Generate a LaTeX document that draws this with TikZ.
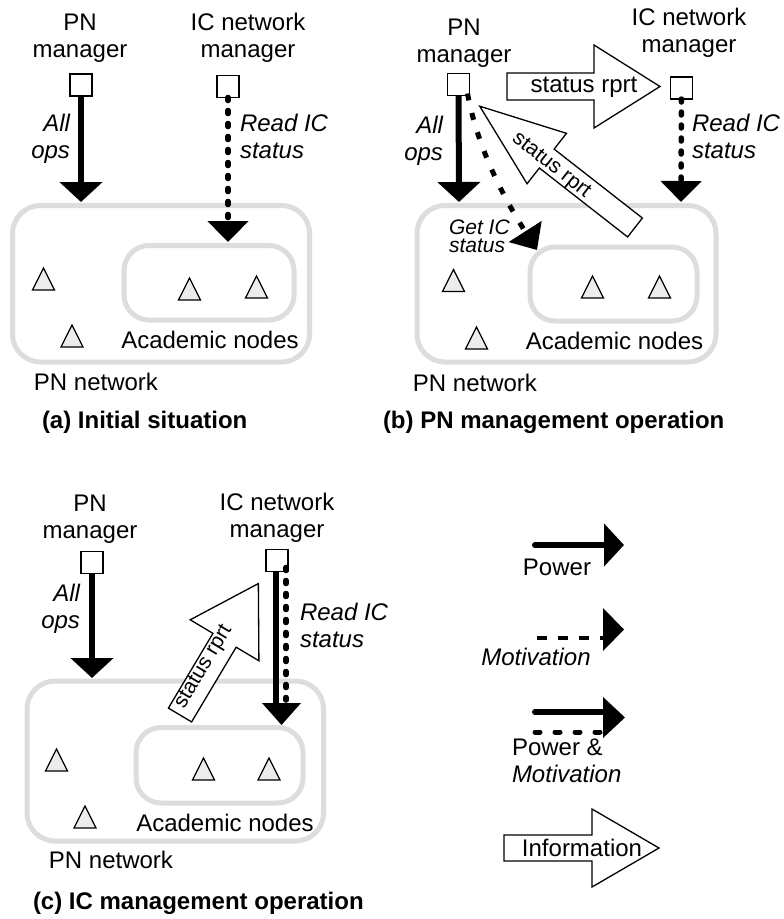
\documentclass[tikz,border=0pt]{standalone}
\usepackage{fontspec}
\setmainfont{Liberation Sans}
\usetikzlibrary{arrows.meta,calc}
\definecolor{framegray}{RGB}{221,221,221}
\definecolor{hostfill}{RGB}{236,236,236}

\tikzset{
  pics/host/.style={code={
    \draw[line width=1.3pt, fill=hostfill, line join=miter] (-11,11) -- (11,11) -- (0,-11) -- cycle;}},
  % open block arrow: length / head length / head width / body width
  pics/infoarrow/.style args={#1/#2/#3/#4}{code={
    \draw[line width=1.3pt, fill=white, line join=miter, miter limit=10]
      (0,{#4/2}) -- ({#1-#2},{#4/2}) -- ({#1-#2},{#3/2}) -- (#1,0)
      -- ({#1-#2},{-#3/2}) -- ({#1-#2},{-#4/2}) -- (0,{-#4/2}) -- cycle;}},
}

\begin{document}
\begin{tikzpicture}[x=1pt,y=-1pt,
  every node/.style={inner sep=0pt, outer sep=0pt, font=\fontsize{24}{27}\selectfont},
  mgr/.style={draw, line width=1.4pt, minimum size=22pt, fill=white},
  net/.style={draw=framegray, line width=5pt, rounded corners=28pt},
  sub/.style={draw=framegray, line width=5pt, rounded corners=25pt},
  power/.style={line width=6pt, -{Triangle[width=42pt,length=20pt]}},
  motiv/.style={line width=5.5pt, line cap=round, dash pattern=on 3pt off 10pt,
                -{Triangle[width=40pt,length=21pt]}},
  getdash/.style={line width=5pt, dash pattern=on 7pt off 13pt,
                -{Triangle[width=38pt,length=22pt]}},
  legdash/.style={line width=4pt, dash pattern=on 10pt off 11pt},
  legdot/.style={line width=5pt, line cap=round, dash pattern=on 5pt off 15pt},
  lbl/.style={align=center},
  it/.style={font=\fontsize{24}{27}\selectfont\itshape},
  small/.style={font=\fontsize{21}{24}\selectfont},
  title/.style={anchor=west, font=\fontsize{24}{27}\selectfont\bfseries},
]
\fill[white] (0,0) rectangle (784,919);
\useasboundingbox (0,0) rectangle (784,919);

% ================= (a) Initial situation =================
\draw[net] (12.5,205.5) rectangle (309.5,362);
\draw[sub] (124,245.5) rectangle (294,320);
\pic at (43.5,279) {host};
\pic at (189.5,289) {host};
\pic at (256.5,287) {host};
\pic at (72,336) {host};
\node (acadA) at (210,340) {Academic nodes};
\node (pnnetA) at (96,382) {PN network};
\node[title] (titleA) at (42,422) {(a) Initial situation};

\node[lbl] (pnAlbl) at (80,38) {PN\\manager};
\node[lbl] (icAlbl) at (248,38) {IC network\\manager};
\node[mgr] (pnA) at (81,85) {};
\node[mgr] (icA) at (228,86.5) {};
\coordinate (pnAin) at (81,202);
\coordinate (icAin) at (228,242);
\draw[power] (pnA) -- (pnAin);
\draw[motiv] (icA) -- (icAin);
\node[it, align=right, anchor=east] (opsA) at (70,139) {All\\ops};
\node[it, align=left, anchor=west] (readA) at (240,136.5) {Read IC\\status};

% ================= (b) PN management operation =================
\draw[net] (417,205.5) rectangle (716,362);
\draw[sub] (530,247) rectangle (697,321);
\pic at (453.5,280.5) {host};
\pic at (592.5,287) {host};
\pic at (659.5,287) {host};
\pic at (476.5,338) {host};
\node (acadB) at (614.5,341) {Academic nodes};
\node (pnnetB) at (475,383) {PN network};
\node[title] (titleB) at (383,422) {(b) PN management operation};

\node[lbl] (pnBlbl) at (464,43) {PN\\manager};
\node[lbl] (icBlbl) at (689,33) {IC network\\manager};
\node[mgr] (pnB) at (458.5,84.5) {};
\node[mgr] (icB) at (681.5,88) {};
\coordinate (pnBin) at (459,202);
\coordinate (icBin) at (681,202);
\draw[power] (pnB) -- (pnBin);
\draw[motiv] (icB) -- (icBin);
\node[it, align=right, anchor=east] (opsB) at (443,141) {All\\ops};
\node[it, align=left, anchor=west] (readB) at (692,136) {Read IC\\status};

% query from the PN manager into the academic nodes
\coordinate (getTip) at (537,250);
\draw[getdash] ([xshift=-2pt,yshift=2pt]pnB.south east)
  .. controls (478,150) and (505,200) .. (getTip);
\node[align=left, anchor=west, font=\fontsize{21}{18}\selectfont\itshape] (getB) at (449,236) {Get IC\\status};

% status reports
\pic at (507,86.5) {infoarrow={153/66/83/27}};
\node (rprtB1) at (584,87) {status rprt};
\pic[rotate=142] at (635,227.5) {infoarrow={197/85/64/24}};
\node[small, rotate=-38] (rprtB2) at (551,166) {status rprt};

% ================= (c) IC management operation =================
\draw[net] (27,681) rectangle (323.5,841);
\draw[sub] (136,727.5) rectangle (303,803);
\pic at (56.5,760) {host};
\pic at (203.5,769) {host};
\pic at (269,769) {host};
\pic at (85,817) {host};
\node (acadC) at (225,823) {Academic nodes};
\node (pnnetC) at (111,860) {PN network};
\node[title] (titleC) at (33,903) {(c) IC management operation};

\node[lbl] (pnClbl) at (90,519) {PN\\manager};
\node[lbl] (icClbl) at (277,518) {IC network\\manager};
\node[mgr] (pnC) at (92,562.5) {};
\node[mgr] (icC) at (277,560.5) {};
\coordinate (pnCin) at (92,678);
\draw[power] (pnC) -- (pnCin);
% combined power and motivation from the IC manager
\coordinate (pmSolid) at (276,704);
\coordinate (pmDot) at (286,700);
\coordinate (pmTip) at (281.5,725);
\draw[line width=6pt] ([xshift=-1pt]icC.south) -- (pmSolid);
\draw[line width=5.5pt, line cap=round, dash pattern=on 3pt off 10pt]
  ([xshift=9pt,yshift=4pt]icC.south) -- (pmDot);
\fill ($(pmTip)+(-19.5,-22)$) -- ($(pmTip)+(19.5,-22)$) -- (pmTip) -- cycle;
\node[it, align=right, anchor=east] (opsC) at (80,609) {All\\ops};
\node[it, align=left, anchor=west] (readC) at (300,625.5) {Read IC\\status};

\pic[rotate=59.2] at (180,715) {infoarrow={153/66/80/27}};
\node[small, rotate=59.2] (rprtC) at (204,667) {status rprt};

% ================= legend =================
\coordinate (lpA) at (535,545);
\coordinate (lpB) at (624,545);
\draw[power, line cap=round] (lpA) -- (lpB);
\node (lpLbl) at (557,567) {Power};

\coordinate (lmA) at (537,638);
\coordinate (lmB) at (603,638);
\coordinate (lmTip) at (624,629.5);
\draw[legdash] (lmA) -- (lmB);
\fill ($(lmTip)+(-21,-21.5)$) -- (lmTip) -- ($(lmTip)+(-21,21.5)$) -- cycle;
\node[it] (lmLbl) at (536,657) {Motivation};

\coordinate (lbA) at (535,712);
\coordinate (lbB) at (604,712);
\coordinate (lbC) at (535,732);
\coordinate (lbD) at (604,732);
\coordinate (lbTip) at (625,717.5);
\draw[line width=6pt, line cap=round] (lbA) -- (lbB);
\draw[legdot] (lbC) -- (lbD);
\fill ($(lbTip)+(-22,-20.5)$) -- (lbTip) -- ($(lbTip)+(-22,20.5)$) -- cycle;
\node[align=left, anchor=west] (lbLbl) at (512,760.5) {Power \&\\\textit{Motivation}};

\pic at (504,848) {infoarrow={155/67/78/26}};
\node (liLbl) at (582,848) {Information};
\end{tikzpicture}
\end{document}
